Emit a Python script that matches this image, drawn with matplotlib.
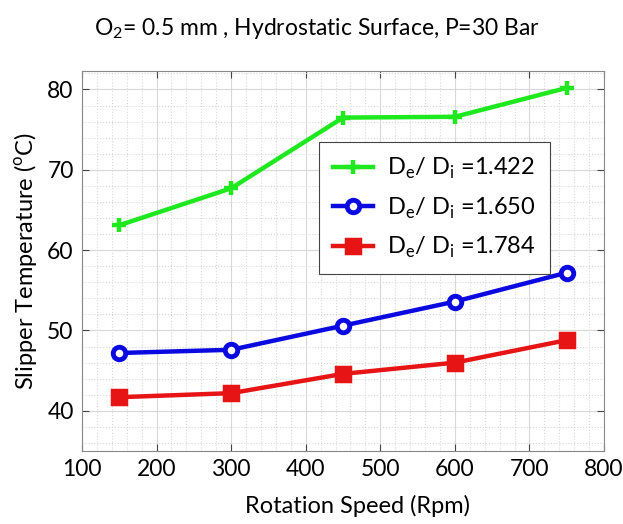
import matplotlib.pyplot as plt
from matplotlib.ticker import MultipleLocator

plt.rcParams['font.family'] = ['Lato', 'DejaVu Sans']
plt.rcParams['mathtext.fontset'] = 'custom'
plt.rcParams['mathtext.rm'] = 'Lato'

# Dane
speed = [150, 300, 450, 600, 750]
temp_1422 = [63.1, 67.7, 76.5, 76.6, 80.2]
temp_1650 = [47.2, 47.6, 50.6, 53.6, 57.2]
temp_1784 = [41.7, 42.2, 44.6, 46.0, 48.8]
labels = ['1.422', '1.650', '1.784']

fig = plt.figure(figsize=(6.23, 5.24), dpi=100)
ax = fig.add_axes([0.1316, 0.1393, 0.838, 0.7252])

ax.plot(speed, temp_1422, color='#1ee81e', linewidth=3.2, marker='+',
        markersize=10, markeredgewidth=3.2,
        label=r'D$_\mathregular{e}$/ D$_\mathregular{i}$ =' + labels[0])
ax.plot(speed, temp_1650, color='#0a0ae0', linewidth=3.2, marker='o',
        markersize=9, markeredgewidth=3.5, markerfacecolor='white',
        label=r'D$_\mathregular{e}$/ D$_\mathregular{i}$ =' + labels[1])
ax.plot(speed, temp_1784, color='#e61414', linewidth=3.2, marker='s',
        markersize=10, markeredgewidth=2.5,
        label=r'D$_\mathregular{e}$/ D$_\mathregular{i}$ =' + labels[2])

ax.set_xlim(100, 800)
ax.set_ylim(35, 82.3)
ax.xaxis.set_major_locator(MultipleLocator(100))
ax.xaxis.set_minor_locator(MultipleLocator(20))
ax.yaxis.set_major_locator(MultipleLocator(10))
ax.yaxis.set_minor_locator(MultipleLocator(2))

ax.grid(True, which='major', color='#d8d8d8', linewidth=0.8)
ax.grid(True, which='minor', color='#d8d8d8', linestyle=':', linewidth=0.8)
ax.set_axisbelow(True)

ax.tick_params(which='major', direction='in', top=True, right=True,
               length=5, color='#444444', labelsize=16.5, pad=6)
ax.tick_params(which='minor', length=0)
for s in ax.spines.values():
    s.set_color('#888888')

ax.set_xlabel('Rotation Speed (Rpm)', fontsize=17, labelpad=9)
ax.xaxis.set_label_coords(0.527, -0.115)
ax.set_ylabel(r'Slipper Temperature ($^\mathregular{o}$C)', fontsize=17, labelpad=6)
ax.set_title(r'O$_\mathregular{2}$= 0.5 mm , Hydrostatic Surface, P=30 Bar',
             fontsize=16.5, pad=26, x=0.45)

leg = ax.legend(loc='upper left', bbox_to_anchor=(0.454, 0.813), fontsize=17,
                fancybox=False, edgecolor='#444444', framealpha=1,
                handlelength=1.7, handletextpad=0.6, labelspacing=0.6,
                borderpad=0.6, borderaxespad=0)
leg.get_frame().set_linewidth(0.8)

fig.savefig('out.png', dpi=100)
